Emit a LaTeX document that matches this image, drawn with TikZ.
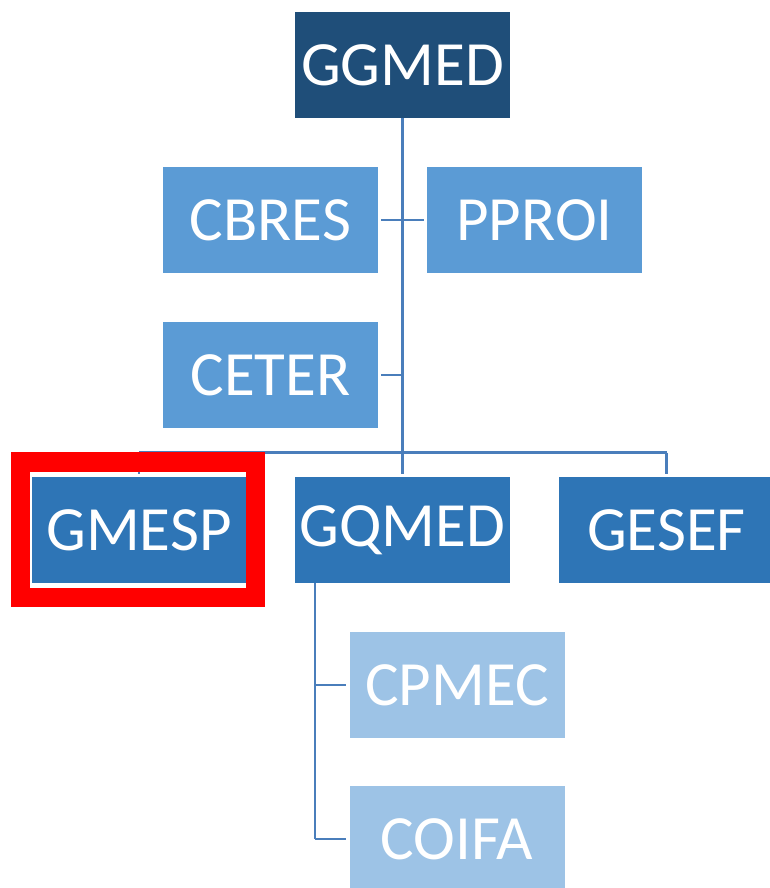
\documentclass[tikz,border=0pt]{standalone}
\usepackage{fontspec}
\setmainfont{Carlito}
\definecolor{topblue}{HTML}{1F4E79}
\definecolor{midblue}{HTML}{5B9BD5}
\definecolor{unitblue}{HTML}{2E75B6}
\definecolor{paleblue}{HTML}{9DC3E6}
\definecolor{linkblue}{HTML}{4A7EBB}
\tikzset{
  unit/.style={fill=#1, text=white, minimum width=215pt, minimum height=106pt,
    inner sep=0pt, font=\fontsize{63}{70}\selectfont},
  link/.style={draw=linkblue, line width=2.6pt}
}
\begin{document}
\begin{tikzpicture}[x=1pt, y=-1pt, every node/.style={anchor=center}]
        \useasboundingbox (0,0) rectangle (769,888);

        % Top level
        \node[unit=topblue] (ggmed) at (402.5,65) {GGMED};

        % Staff units
        \node[unit=midblue] (cbres) at (270.5,220) {CBRES};
        \node[unit=midblue] (pproi) at (534.5,220) {PPROI};
        \node[unit=midblue] (ceter) at (270.5,375) {CETER};

        % Managements
        \node[unit=unitblue] (gmesp) at (139,530) {GMESP};
        \node[unit=unitblue] (gqmed) at (402.5,530) {GQMED};
        \node[unit=unitblue] (gesef) at (666.5,530) {GESEF};

        % Coordinations
        \node[unit=paleblue] (cpmec) at (457,685) {CPMEC};
        \node[unit=paleblue] (coifa) at (457,839) {COIFA};

        % Bus and spine
        \coordinate (bus) at (402.5,452.5);
        \coordinate (spine) at (315,583);
        \draw[link] (ggmed.south) -- (bus);
        \draw[link] (gmesp.north |- bus) -- (gesef.north |- bus);

        % Draw lines for the staff units
        \draw[link, shorten <=3pt, shorten >=3pt] (cbres.east) -- (pproi.west);
        \draw[link, shorten <=3pt] (ceter.east) -- (ceter.east -| bus);

        % Draw lines down to the managements
        \draw[link, shorten >=3pt] (gmesp.north |- bus) -- (gmesp.north);
        \draw[link, shorten >=3pt] (bus) -- (gqmed.north);
        \draw[link, shorten >=3pt] (gesef.north |- bus) -- (gesef.north);

        % Draw lines for the coordinations
        \draw[link] (spine) -- (spine |- coifa.west);
        \draw[link, shorten >=3pt] (spine |- cpmec.west) -- (cpmec.west);
        \draw[link, shorten >=3pt] (spine |- coifa.west) -- (coifa.west);

        % Highlight
        \draw[red, line width=19.5pt] (20.5,462) rectangle (255.5,597.5);
    \end{tikzpicture}
\end{document}
